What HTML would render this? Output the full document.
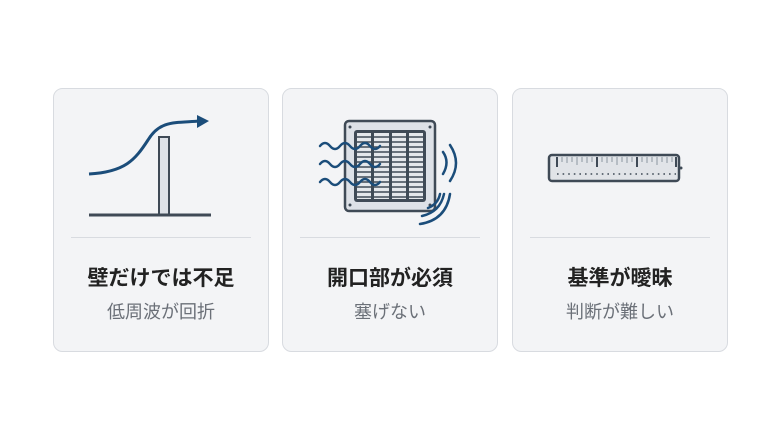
<!DOCTYPE html>
<html><head><meta charset="utf-8"><style>
body{margin:0;background:#fff;}
svg text{font-family:"Liberation Sans","Noto Sans CJK JP",sans-serif;}
</style></head><body>
<svg width="780" height="439" viewBox="0 0 780 439" xmlns="http://www.w3.org/2000/svg">
<rect width="780" height="439" fill="#fff"/>
<g fill="#f3f4f6" stroke="#d8dbe0" stroke-width="1">
<rect x="53.5" y="88.5" width="215" height="263" rx="9"/>
<rect x="282.5" y="88.5" width="215" height="263" rx="9"/>
<rect x="512.5" y="88.5" width="215" height="263" rx="9"/>
</g>
<g stroke="#d8dbe0" stroke-width="1">
<line x1="71" y1="237.5" x2="251" y2="237.5"/>
<line x1="300" y1="237.5" x2="480" y2="237.5"/>
<line x1="530" y1="237.5" x2="710" y2="237.5"/>
</g>
<rect x="159" y="137" width="10" height="78" fill="#dde1e7" stroke="#3f4a56" stroke-width="2"/>
<line x1="89" y1="215" x2="211" y2="215" stroke="#3f4a56" stroke-width="3"/>
<path d="M89 174 C125 172 135 160 148 140 C160 120 175 123 200 121" fill="none" stroke="#1b4d7a" stroke-width="3"/>
<path d="M197 115 L209 121 L197 128 Z" fill="#1b4d7a"/>
<rect x="345" y="121" width="90" height="90" rx="4" fill="#dde1e7" stroke="#3f4a56" stroke-width="2.5"/>
<rect x="354" y="130" width="72" height="72" rx="3" fill="#3f4a56"/>
<g fill="#e4e7eb">
<rect x="357" y="133" width="14" height="66"/><rect x="374" y="133" width="15" height="66"/><rect x="392" y="133" width="14" height="66"/><rect x="409" y="133" width="14" height="66"/>
</g>
<g stroke="#3f4a56" stroke-width="1.5">
<line x1="356" y1="137" x2="424" y2="137"/><line x1="356" y1="142" x2="424" y2="142"/><line x1="356" y1="147" x2="424" y2="147"/><line x1="356" y1="152" x2="424" y2="152"/><line x1="356" y1="157" x2="424" y2="157"/><line x1="356" y1="162" x2="424" y2="162"/><line x1="356" y1="167" x2="424" y2="167"/><line x1="356" y1="172" x2="424" y2="172"/><line x1="356" y1="177" x2="424" y2="177"/><line x1="356" y1="182" x2="424" y2="182"/><line x1="356" y1="187" x2="424" y2="187"/><line x1="356" y1="192" x2="424" y2="192"/><line x1="356" y1="197" x2="424" y2="197"/>
</g>
<g fill="#3f4a56"><circle cx="350" cy="127" r="1.5"/><circle cx="430" cy="127" r="1.5"/><circle cx="350" cy="205" r="1.5"/><circle cx="430" cy="205" r="1.5"/></g>
<g fill="none" stroke="#1b4d7a" stroke-width="2.5" stroke-linecap="round">
<path d="M320 146 q5 -6 10 0 t10 0 t10 0 t10 0 t10 0 t10 0"/>
<path d="M320 164 q5 -6 10 0 t10 0 t10 0 t10 0 t10 0 t10 0"/>
<path d="M320 182 q5 -6 10 0 t10 0 t10 0 t10 0 t10 0 t10 0"/>
<path d="M443 152 q7 10 0 22"/>
<path d="M450 145 q12 18 0 36"/>
<path d="M428 208 q10 -4 12 -14"/>
<path d="M422 216 q18 -4 22 -22"/>
<path d="M420 224 q26 -4 30 -30"/>
</g>
<rect x="549" y="155" width="130" height="26" rx="3" fill="#e1e4e8" stroke="#3f4a56" stroke-width="2.5"/>
<g stroke="#3f4a56" stroke-width="2"><line x1="557" y1="157" x2="557" y2="167"/><line x1="597" y1="157" x2="597" y2="167"/><line x1="637" y1="157" x2="637" y2="167"/><line x1="676" y1="157" x2="676" y2="167"/></g>
<g stroke="#9aa3ad" stroke-width="1.2">
<line x1="562" y1="157" x2="562" y2="162"/><line x1="567" y1="157" x2="567" y2="163"/><line x1="572" y1="157" x2="572" y2="162"/><line x1="577" y1="157" x2="577" y2="165"/><line x1="582" y1="157" x2="582" y2="162"/><line x1="587" y1="157" x2="587" y2="163"/><line x1="592" y1="157" x2="592" y2="162"/>
<line x1="602" y1="157" x2="602" y2="162"/><line x1="607" y1="157" x2="607" y2="163"/><line x1="612" y1="157" x2="612" y2="162"/><line x1="617" y1="157" x2="617" y2="165"/><line x1="622" y1="157" x2="622" y2="162"/><line x1="627" y1="157" x2="627" y2="163"/><line x1="632" y1="157" x2="632" y2="162"/>
<line x1="642" y1="157" x2="642" y2="162"/><line x1="647" y1="157" x2="647" y2="163"/><line x1="652" y1="157" x2="652" y2="162"/><line x1="657" y1="157" x2="657" y2="165"/><line x1="662" y1="157" x2="662" y2="162"/><line x1="667" y1="157" x2="667" y2="163"/><line x1="672" y1="157" x2="672" y2="162"/>
</g>
<line x1="557" y1="174" x2="676" y2="174" stroke="#3f4a56" stroke-width="1.6" stroke-dasharray="1.6 4"/>
<circle cx="681" cy="168" r="1.5" fill="#3f4a56"/>
<g text-anchor="middle">
<text x="161" y="285" font-size="21" font-weight="bold" fill="#222">壁だけでは不足</text>
<text x="161" y="318" font-size="18" fill="#6b7078">低周波が回折</text>
<text x="390" y="285" font-size="21" font-weight="bold" fill="#222">開口部が必須</text>
<text x="390" y="318" font-size="18" fill="#6b7078">塞げない</text>
<text x="620" y="285" font-size="21" font-weight="bold" fill="#222">基準が曖昧</text>
<text x="620" y="318" font-size="18" fill="#6b7078">判断が難しい</text>
</g>
</svg>
</body></html>
